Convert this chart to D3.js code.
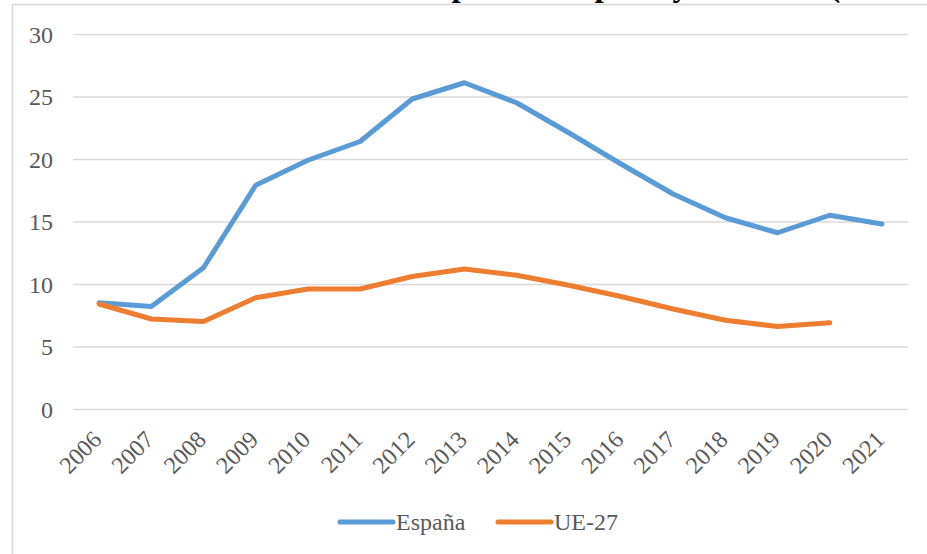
<!DOCTYPE html>
<html>
<head>
<meta charset="utf-8">
<script src="https://cdn.jsdelivr.net/npm/d3@7"></script>
<style>
  html, body { margin: 0; padding: 0; background: #fff; }
  svg { display: block; }
  svg text { font-family: "Liberation Serif", "Times New Roman", Times, serif; }
</style>
</head>
<body>
<svg id="chart" width="927" height="554"></svg>
<script>
// Tasa de desempleo (%), España frente a la UE-27
const years = ["2006","2007","2008","2009","2010","2011","2012","2013","2014","2015","2016","2017","2018","2019","2020","2021"];
const espana = [8.5, 8.2, 11.3, 17.9, 19.9, 21.4, 24.8, 26.1, 24.5, 22.1, 19.6, 17.2, 15.3, 14.1, 15.5, 14.8];
const ue27 = [8.4, 7.2, 7.0, 8.9, 9.6, 9.6, 10.6, 11.2, 10.7, 9.9, 9.0, 8.0, 7.1, 6.6, 6.9];
const yTicks = [0, 5, 10, 15, 20, 25, 30];
const seriesNames = ["España", "UE-27"];
const seriesColors = ["#5B9BD5", "#ED7D31"];
const titleText = "Evolución de la tasa de desempleo en España y la UE-27 (2006-2021)";

const svg = d3.select("#chart");
const W = 927, H = 554;

// Heading of the figure, sitting above the chart frame
const title = svg.append("text")
  .attr("y", -4)
  .attr("font-size", 33)
  .attr("font-weight", "bold")
  .attr("fill", "#000")
  .text(titleText);
const pIdx = titleText.indexOf("desempleo") + 4;
const px = title.node().getStartPositionOfChar(pIdx).x;
title.attr("x", 424 - px);

// Chart frame
svg.append("rect")
  .attr("x", 12.5).attr("y", 4.5)
  .attr("width", W).attr("height", H)
  .attr("fill", "#fff")
  .attr("stroke", "#D9D9D9")
  .attr("stroke-width", 1.5);

const plot = { left: 73, right: 908, top: 34, bottom: 409 };

const x = d3.scaleBand().domain(years).range([plot.left, plot.right]);
const y = d3.scaleLinear().domain([0, 30]).range([plot.bottom, plot.top]);
const cx = d => x(d) + x.bandwidth() / 2;

// Horizontal gridlines and value labels
const yAxis = d3.axisLeft(y).tickValues(yTicks).tickSize(-(plot.right - plot.left)).tickPadding(20);
const gy = svg.append("g").attr("transform", `translate(${plot.left},0)`).call(yAxis);
gy.attr("font-family", null);
gy.select(".domain").remove();
gy.selectAll(".tick line").attr("stroke", "#D9D9D9").attr("stroke-width", 1.3);
gy.selectAll(".tick text")
  .attr("font-size", 24)
  .attr("fill", "#595959")
  .attr("dy", "0.34em");

// Year labels, rotated
const xAxis = d3.axisBottom(x).tickSize(0).tickPadding(0);
const gx = svg.append("g").attr("transform", `translate(0,${plot.bottom})`).call(xAxis);
gx.attr("font-family", null);
gx.select(".domain").remove();
gx.selectAll(".tick text")
  .attr("font-size", 24)
  .attr("fill", "#595959")
  .attr("text-anchor", "end")
  .attr("y", 0)
  .attr("dy", 0)
  .attr("transform", "translate(4,32) rotate(-45)");

// Series lines
const line = d3.line()
  .x((d, i) => cx(years[i]))
  .y(d => y(d));

[espana, ue27].forEach((vals, k) => {
  svg.append("path")
    .datum(vals)
    .attr("d", line)
    .attr("fill", "none")
    .attr("stroke", seriesColors[k])
    .attr("stroke-width", 5)
    .attr("stroke-linejoin", "round")
    .attr("stroke-linecap", "round");
});

// Legend
const legendItems = [
  { name: seriesNames[0], color: seriesColors[0], x0: 340 },
  { name: seriesNames[1], color: seriesColors[1], x0: 498 }
];
const legendY = 522;
legendItems.forEach(it => {
  svg.append("line")
    .attr("x1", it.x0).attr("x2", it.x0 + 53)
    .attr("y1", legendY).attr("y2", legendY)
    .attr("stroke", it.color)
    .attr("stroke-width", 5)
    .attr("stroke-linecap", "round");
  svg.append("text")
    .attr("x", it.x0 + 56)
    .attr("y", legendY + 8)
    .attr("font-size", 24)
    .attr("fill", "#595959")
    .text(it.name);
});
</script>
</body>
</html>
